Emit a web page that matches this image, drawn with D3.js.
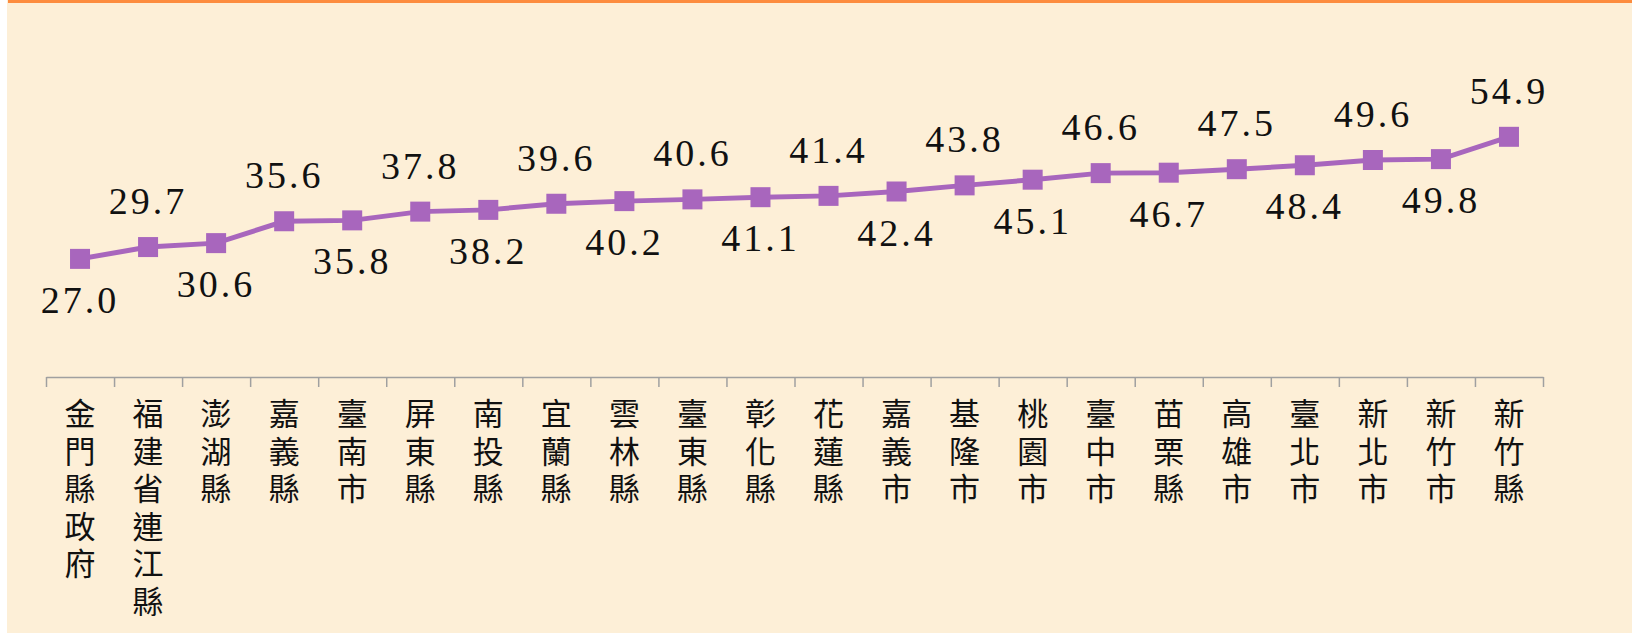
<!DOCTYPE html>
<html>
<head>
<meta charset="utf-8">
<script src="https://cdn.jsdelivr.net/npm/d3@7"></script>
<style>
  html, body { margin: 0; padding: 0; background: #ffffff; }
  svg { display: block; }
  .vlabel { font-family: 'Liberation Serif', 'Times New Roman', 'DejaVu Serif', serif; font-size: 38px; }
  .cat {
    font-family: 'Noto Sans CJK TC', 'Noto Sans CJK SC', sans-serif;
    font-size: 31px;
    writing-mode: vertical-rl;
    text-orientation: upright;
    letter-spacing: 6.5px;
  }
</style>
</head>
<body>
<div id="chart"></div>
<script>
// categories and values
const categories = [
  '金門縣政府', '福建省連江縣', '澎湖縣', '嘉義縣', '臺南市', '屏東縣',
  '南投縣', '宜蘭縣', '雲林縣', '臺東縣', '彰化縣', '花蓮縣',
  '嘉義市', '基隆市', '桃園市', '臺中市', '苗栗縣', '高雄市',
  '臺北市', '新北市', '新竹市', '新竹縣'
];
const values = [
  27.0, 29.7, 30.6, 35.6, 35.8, 37.8, 38.2, 39.6, 40.2, 40.6, 41.1,
  41.4, 42.4, 43.8, 45.1, 46.6, 46.7, 47.5, 48.4, 49.6, 49.8, 54.9
];
const yDomain = [0, 80];

const width = 1632, height = 633;
const plot = { left: 46, right: 1543, top: 27, bottom: 377 };

const svg = d3.select('#chart')
  .append('svg')
  .attr('width', width)
  .attr('height', height);

// background panel + orange top rule
svg.append('rect')
  .attr('x', 7).attr('y', 0)
  .attr('width', width - 7).attr('height', height)
  .attr('fill', '#fdefd7');
svg.append('rect')
  .attr('x', 8).attr('y', 0)
  .attr('width', width - 8).attr('height', 3)
  .attr('fill', '#fd8c3e');

const x = d3.scaleBand()
  .domain(categories)
  .range([plot.left, plot.right]);

const xEdges = d3.scaleLinear()
  .domain([0, categories.length])
  .range([plot.left, plot.right]);

const y = d3.scaleLinear()
  .domain(yDomain)
  .range([plot.bottom, plot.top]);

const cx = d => x(d) + x.bandwidth() / 2;

// x axis, ticks sit between categories
const axis = svg.append('g')
  .attr('transform', `translate(0,${plot.bottom})`)
  .call(d3.axisBottom(xEdges)
    .tickValues(d3.range(categories.length + 1))
    .tickFormat('')
    .tickSize(10)
    .tickSizeOuter(0));
axis.select('.domain').attr('stroke', '#a0a0a0').attr('stroke-width', 1.5);
axis.selectAll('.tick line').attr('stroke', '#a0a0a0').attr('stroke-width', 1.5);

// vertical category labels (top-to-bottom writing)
svg.append('g')
  .selectAll('text')
  .data(categories)
  .enter()
  .append('text')
  .attr('class', 'cat')
  .attr('x', d => cx(d))
  .attr('y', 398)
  .attr('fill', '#111')
  .text(d => d);

// series line
const line = d3.line()
  .x((d, i) => cx(categories[i]))
  .y(d => y(d));

svg.append('path')
  .datum(values)
  .attr('fill', 'none')
  .attr('stroke', '#a866bd')
  .attr('stroke-width', 5)
  .attr('d', line);

// square markers
const m = 20;
svg.selectAll('.marker')
  .data(values)
  .enter()
  .append('rect')
  .attr('class', 'marker')
  .attr('x', (d, i) => cx(categories[i]) - m / 2)
  .attr('y', d => y(d) - m / 2)
  .attr('width', m)
  .attr('height', m)
  .attr('fill', '#a866bd');

// value labels, alternating below / above the point
svg.selectAll('.vlabel')
  .data(values)
  .enter()
  .append('text')
  .attr('class', 'vlabel')
  .attr('text-anchor', 'middle')
  .attr('x', (d, i) => cx(categories[i]))
  .attr('y', (d, i) => i % 2 === 0 ? y(d) + 54 : y(d) - 33)
  .style('letter-spacing', '3px')
  .attr('fill', '#111')
  .text(d => d.toFixed(1));
</script>
</body>
</html>
